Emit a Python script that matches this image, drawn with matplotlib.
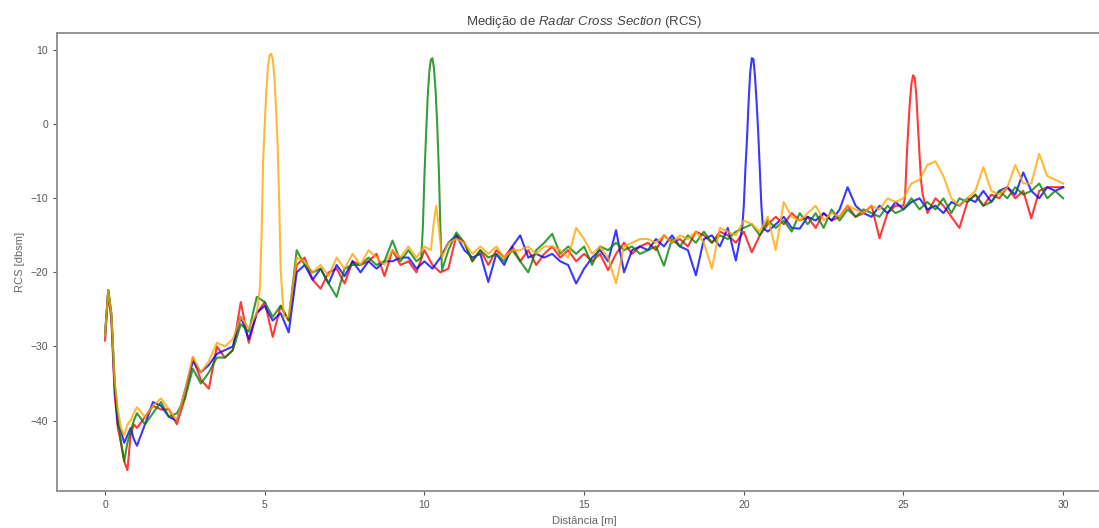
import matplotlib.pyplot as plt
import numpy as np

plt.rcParams['font.family'] = ['Liberation Sans', 'DejaVu Sans']
plt.rcParams['mathtext.fontset'] = 'custom'
plt.rcParams['mathtext.it'] = 'Liberation Sans:italic'
plt.rcParams['mathtext.rm'] = 'Liberation Sans'

# distance grid [m]: fine near the antenna, then 0.25 m steps
dist = np.concatenate([np.arange(0.0, 0.95, 0.1), np.arange(1.0, 30.01, 0.25)])

rcs_red = [
    -29.2, -22.6, -26.5, -36.5, -41, -43, -45.5, -46.7, -42, -40.5,
    -41, -39.5, -38, -38.5,   -38.5, -40.5, -37, -31.5,   -34.5, -35.7, -30, -31.5,
    -30.5, -24, -29.5, -25.5,   -24, -28.7, -24.5, -26.5,   -19, -18, -21, -22.2,
    -20, -19.5, -21.5, -18.5,   -19, -18.5, -17.5, -20.5,   -17, -19, -18.5, -20,
    -17, -19, -20, -19.5,   -15, -16, -18.5, -17,   -19, -17, -18, -16.5,
    -18.5, -17, -19, -17.5,   -16.5, -18, -17, -18.5,   -17.5, -18.5, -17.5, -19.7,
    -17.5, -16, -17.5, -16.5,   -16, -17, -15, -16,   -15.5, -16.5, -14.5, -15,
    -16, -14.5, -15, -16,   -14.5, -17.3, -15, -13.5,   -12.5, -13.5, -12, -13,
    -12.5, -14, -12, -13,   -12.5, -11, -12.5, -12,   -11, -15.4, -12, -11,
    -10, -12, -10.5, -12,   -10, -11, -12.5, -14,   -10.5, -9.5, -11, -9.5,
    -10, -8.5, -10, -9,   -12.7, -9, -8.5, -8.5,   -8.5,
]
rcs_blue = [
    -28.5, -22.4, -26, -35.5, -40.5, -41.5, -43, -42, -41, -42.5,
    -43.4, -40.5, -37.5, -38,   -39.5, -40, -36, -32,   -33.5, -32.5, -31, -30.5,
    -30, -26, -29, -25.5,   -24.5, -26.5, -25.5, -28.1,   -20, -19, -21, -19.5,
    -21.5, -19, -20.5, -18.5,   -20, -18.5, -19.5, -18.5,   -18.5, -18, -18, -19.5,
    -18.5, -19.5, -18, -16,   -15, -17, -18, -17.5,   -21.3, -17.5, -19, -16.5,
    -15, -18, -17.5, -18,   -17.5, -18.5, -19, -21.5,   -19.5, -18, -17, -18.5,
    -14.3, -20, -17, -16.5,   -17, -15.5, -16.5, -15,   -16.5, -17, -20.4, -15.5,
    -15, -16.5, -14, -18.4,   -13, -14, -13.5, -14.5,   -13.5, -12.5, -14, -14.1,
    -12.5, -13, -12, -13,   -11.5, -8.5, -11, -12,   -12.5, -11, -12, -10.5,
    -11.5, -10.5, -10, -11.5,   -11, -12, -10.5, -11,   -10, -10.5, -9, -10.5,
    -9, -8.5, -9.5, -6.5,   -9, -10, -8.5, -9,   -8.5,
]
rcs_green = [
    -28.3, -22.4, -25.5, -35, -39.5, -43, -45.5, -43, -41.5, -40,
    -39, -40.5, -39, -37.5,   -39.5, -39, -37, -33,   -35, -33.5, -31.5, -31.5,
    -30.5, -27, -28, -23.3,   -24, -26, -24.5, -26.5,   -17, -19, -20, -19.5,
    -21.5, -23.3, -19.5, -19,   -19, -18, -19, -18.5,   -15.7, -18.5, -17, -18.5,
    -17, -18, -19.7, -17,   -14.6, -16, -18.5, -17,   -18, -17.5, -18.5, -17,
    -18.5, -20, -17, -16,   -14.8, -17.5, -16.5, -17.5,   -16.5, -19, -16.5, -17,
    -16, -17, -16.5, -17.5,   -17, -16.5, -19.1, -15.5,   -16.5, -15, -16, -14.5,
    -16, -15, -15.5, -14.5,   -14, -13.5, -15, -13,   -14, -13, -14.5, -12,
    -13.5, -12, -14, -11.5,   -13, -11.5, -12.5, -11.5,   -12, -12.5, -11, -12,
    -11.5, -10, -11.5, -10.5,   -11.5, -10, -12, -10,   -10.5, -9.5, -11, -10.5,
    -9, -10, -8.5, -9.5,   -9, -8, -10, -9,   -10,
]
rcs_orange = [
    -28.5, -22.4, -25.8, -34.5, -38.5, -41, -42, -40.5, -40, -39,
    -38.2, -39.5, -38, -37,   -38.5, -40, -36, -31.4,   -33.5, -32, -29.5, -30,
    -29, -26, -27.5, -25.5,   -25, -26, -19.7, -26,   -18, -18.5, -20, -19,
    -20.5, -18, -19.5, -17.5,   -19, -17, -18, -19,   -17, -18, -16.5, -18,
    -16.5, -17.5, -18, -16,   -15.5, -16, -17.5, -16.5,   -17.5, -16.5, -18, -17,
    -17, -16.5, -17.5, -16.5,   -16.5, -17, -18, -14,   -15.5, -17.5, -16.5, -18,
    -21.5, -16.5, -16, -15.5,   -15.5, -16, -15, -16,   -15, -15.5, -14.5, -16,
    -19.5, -14, -14.5, -15,   -13, -13.5, -14.5, -12.5,   -17, -10.5, -12.5, -13,
    -12, -11, -13, -12,   -12.5, -11, -11.5, -12,   -11, -11.5, -10, -10.5,
    -10, -8, -7.5, -5.5,   -5, -7, -10, -11,   -10, -9, -5.8, -9,
    -9.5, -8.5, -5.5, -8,   -8, -4, -7, -7.5,   -8,
]

# main lobes of the corner reflector echoes, sampled finer
peak_red_x = [25.0, 25.05, 25.1, 25.15, 25.2, 25.25, 25.3, 25.35, 25.4, 25.45, 25.5, 25.55, 25.6]
peak_red = [-11, -9.8, -4.5, -0.5, 3, 5.5, 6.6, 6.3, 4, 0, -4, -7.6, -9.5]

peak_blue_x = [19.95, 20.0, 20.05, 20.1, 20.15, 20.2, 20.25, 20.3, 20.35, 20.4, 20.45, 20.5, 20.55, 20.6]
peak_blue = [-14, -11, -6, -2, 3, 7, 8.9, 8.8, 6.5, 3, -1, -6, -11, -14]

peak_green_x = [9.9, 9.95, 10.0, 10.05, 10.1, 10.15, 10.2, 10.25, 10.3, 10.35, 10.4, 10.45, 10.5, 10.55]
peak_green = [-18, -14, -7, -1.5, 3.5, 7, 8.7, 8.9, 7.5, 4.5, 0, -6, -14, -19.7]

peak_orange_x = [4.85, 4.9, 4.95, 5.0, 5.05, 5.1, 5.15, 5.2, 5.25, 5.3, 5.35, 5.4, 5.45, 5.5, 5.55, 5.6]
peak_orange = [-22, -15, -5, 0, 4.5, 7.8, 9.3, 9.5, 8.8, 6.5, 2.5, -2.5, -10, -19.7, -23, -26]
lobe_orange_x = [10.2, 10.3, 10.37, 10.45, 10.55]
lobe_orange = [-17, -13, -11, -14, -18]


def merge(x, y, segments):
    """Insert finely sampled segments into the coarse grid."""
    x = np.asarray(x, dtype=float)
    y = np.asarray(y, dtype=float)
    for sx, sy in segments:
        keep = (x < sx[0]) | (x > sx[-1])
        x = np.concatenate([x[keep], sx])
        y = np.concatenate([y[keep], sy])
        order = np.argsort(x)
        x, y = x[order], y[order]
    return x, y


series = [
    ('red', rcs_red, [(peak_red_x, peak_red)]),
    ('blue', rcs_blue, [(peak_blue_x, peak_blue)]),
    ('green', rcs_green, [(peak_green_x, peak_green)]),
    ('orange', rcs_orange, [(peak_orange_x, peak_orange), (lobe_orange_x, lobe_orange)]),
]

fig = plt.figure(figsize=(10.99, 5.28), dpi=100)
ax = fig.add_axes([0.052, 0.070, 0.959, 0.8675])

for color, vals, segs in series:
    x, y = merge(dist, vals, segs)
    ax.plot(x, y, color=color, lw=1.5, alpha=0.78)

ax.set_xticks([0, 5, 10, 15, 20, 25, 30])
ax.set_yticks([-40, -30, -20, -10, 0, 10])
ax.tick_params(labelsize=7.5, colors='#555555', length=3)
for s in ax.spines.values():
    s.set_color('#8c8c8c')
    s.set_linewidth(1.3)

ax.set_title(r'Medição de $\mathit{Radar\ Cross\ Section}$ (RCS)', fontsize=9.5, color='#444444')
ax.set_xlabel('Distância [m]', fontsize=8, color='#666666')
ax.set_ylabel('RCS [dbsm]', fontsize=8, color='#666666')

fig.savefig('out.png', dpi=100)
